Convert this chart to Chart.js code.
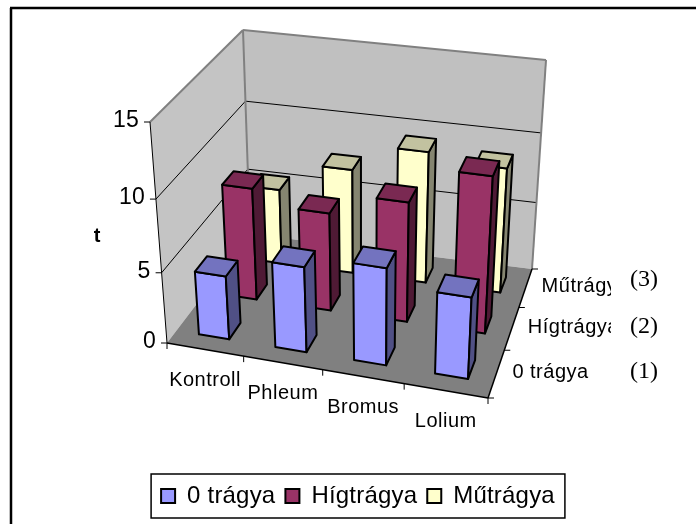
<!DOCTYPE html>
<html>
<head>
<meta charset="utf-8">
<title>t</title>
<script src="https://cdn.jsdelivr.net/npm/chart.js@4"></script>
<style>
  html, body { margin: 0; padding: 0; background: #fff; }
  canvas { display: block; }
</style>
</head>
<body>
<canvas id="chart" width="696" height="524"></canvas>
<script>
const categories = ["Kontroll", "Phleum", "Bromus", "Lolium"];
const seriesNames = ["0 trágya", "Hígtrágya", "Műtrágya"];
const zeroTragya = [4.5, 6, 6.8, 5.7];
const higtragya = [8, 7, 8.5, 11];
const mutragya = [5.5, 7.6, 9.5, 9];
const yTicks = [0, 5, 10, 15];
const seriesNotes = ["(1)", "(2)", "(3)"];

const FRONT = ["#9999ff", "#993366", "#ffffcc"];
const TOP = ["#7373bf", "#7a2952", "#c2c2a0"];
const SIDE = ["#505085", "#4f1a35", "#858570"];
const SANS = "'Liberation Sans', Arial, sans-serif";
const NOTE_Y = [372, 327, 280];

// corners of the 3d box on screen: floor and ceiling, front-left, front-right, back-right, back-left
const FLOOR = [[167, 343], [488, 398], [532, 269], [250, 234]];
const CEIL = [[150, 122], [500, 172], [546, 60], [243, 30]];

// maps the unit square to a quad
function quadMap(q) {
  const [[x0, y0], [x1, y1], [x2, y2], [x3, y3]] = q;
  const dx1 = x1 - x2, dx2 = x3 - x2, dx3 = x0 - x1 + x2 - x3;
  const dy1 = y1 - y2, dy2 = y3 - y2, dy3 = y0 - y1 + y2 - y3;
  const det = dx1 * dy2 - dx2 * dy1;
  const g = (dx3 * dy2 - dx2 * dy3) / det;
  const h = (dx1 * dy3 - dx3 * dy1) / det;
  const a = x1 - x0 + g * x1, b = x3 - x0 + h * x3;
  const d = y1 - y0 + g * y1, e = y3 - y0 + h * y3;
  return (u, v) => {
    const w = g * u + h * v + 1;
    return [(a * u + b * v + x0) / w, (d * u + e * v + y0) / w];
  };
}
const floorAt = quadMap(FLOOR);
const ceilAt = quadMap(CEIL);

// u along categories, v into the depth, t is height as 0..1
function project(u, v, t) {
  const w = u + 0.06 * u * (1 - u); // the front edge is more even than a pure quad gives
  const z = t - 0.07 * t * (1 - t); // same for height, upper steps are a bit taller
  const f = floorAt(w, v), c = ceilAt(w, v);
  return [f[0] + (c[0] - f[0]) * z, f[1] + (c[1] - f[1]) * z];
}

function poly(ctx, pts, fill, stroke, width) {
  ctx.beginPath();
  pts.forEach((p, i) => (i ? ctx.lineTo(p[0], p[1]) : ctx.moveTo(p[0], p[1])));
  ctx.closePath();
  if (fill) { ctx.fillStyle = fill; ctx.fill(); }
  if (stroke) { ctx.strokeStyle = stroke; ctx.lineWidth = width; ctx.stroke(); }
}

function line(ctx, a, b, color, width) {
  ctx.beginPath();
  ctx.moveTo(a[0], a[1]);
  ctx.lineTo(b[0], b[1]);
  ctx.strokeStyle = color;
  ctx.lineWidth = width;
  ctx.stroke();
}

function drawBox(ctx, u, v, t, s) {
  const du = 0.2 / categories.length, dv = 0.2 / seriesNames.length;
  const a = project(u - du, v - dv, 0), b = project(u + du, v - dv, 0), c = project(u + du, v + dv, 0);
  const A = project(u - du, v - dv, t), B = project(u + du, v - dv, t);
  const C = project(u + du, v + dv, t), D = project(u - du, v + dv, t);
  poly(ctx, [a, b, B, A], FRONT[s], "#000", 2);
  poly(ctx, [b, c, C, B], SIDE[s], "#000", 2);
  poly(ctx, [A, B, C, D], TOP[s], "#000", 2);
}

const box3d = {
  id: "box3d",
  beforeUpdate(chart) {
    chart.ctx.letterSpacing = "0.2px"; // legend text runs a little wide in the reference
  },
  beforeDatasetsDraw(chart) {
    const ctx = chart.ctx;
    const xs = chart.scales.x, ys = chart.scales.y;
    const n = categories.length, m = seriesNames.length;
    const norm = (v) => ys.getDecimalForPixel(ys.getPixelForValue(v));
    ctx.save();
    ctx.lineJoin = "round";

    // walls and floor
    poly(ctx, [project(0, 0, 0), project(0, 1, 0), project(0, 1, 1), project(0, 0, 1)], "#c4c4c4");
    poly(ctx, [project(0, 1, 0), project(1, 1, 0), project(1, 1, 1), project(0, 1, 1)], "#c0c0c0");
    poly(ctx, [project(0, 0, 0), project(1, 0, 0), project(1, 1, 0), project(0, 1, 0)], "#808080");
    yTicks.forEach((tv) => {
      const t = norm(tv);
      if (t > 0 && t < 1) {
        line(ctx, project(0, 0, t), project(0, 1, t), "#000", 1);
        line(ctx, project(0, 1, t), project(1, 1, t), "#000", 1);
      }
    });
    line(ctx, project(0, 0, 1), project(0, 1, 1), "#808080", 2);
    line(ctx, project(0, 1, 1), project(1, 1, 1), "#808080", 2);
    line(ctx, project(0, 1, 0), project(0, 1, 1), "#808080", 2);
    line(ctx, project(1, 1, 0), project(1, 1, 1), "#808080", 2);

    // axes
    line(ctx, project(0, 0, 0), project(0, 0, 1), "#000", 1);
    line(ctx, project(0, 0, 0), project(1, 0, 0), "#000", 1.5);
    line(ctx, project(1, 0, 0), project(1, 1, 0), "#000", 1.5);

    ctx.fillStyle = "#000";
    ctx.textBaseline = "middle";
    ctx.font = "23px " + SANS;
    ctx.textAlign = "right";
    yTicks.forEach((tv) => {
      const p = project(0, 0, norm(tv));
      line(ctx, p, [p[0] - 6, p[1]], "#000", 1);
      ctx.fillStyle = "#000";
      ctx.fillText(String(tv), p[0] - 11, p[1] - 1);
    });
    for (let i = 0; i <= n; i += 1) {
      const p = project(i / n, 0, 0);
      line(ctx, p, [p[0], p[1] + 6], "#000", 1);
    }
    for (let j = 0; j <= m; j += 1) {
      const p = project(1, j / m, 0);
      line(ctx, p, [p[0] + 6, p[1]], "#000", 1);
    }

    ctx.fillStyle = "#000";
    ctx.font = "20px " + SANS;
    ctx.letterSpacing = "0.5px";
    ctx.textAlign = "center";
    categories.forEach((name, i) => {
      const p = project(xs.getDecimalForPixel(xs.getPixelForValue(i)), 0, 0);
      ctx.fillText(name, p[0], p[1] + 31);
    });

    // depth labels run under the pasted (1)(2)(3) box, so they get cut at its edge
    ctx.save();
    ctx.beginPath();
    ctx.rect(0, 0, 611, 524);
    ctx.clip();
    ctx.textAlign = "left";
    seriesNames.forEach((name, j) => {
      const p = project(1, (j + 0.5) / m, 0);
      ctx.fillText(name, p[0] + 16, p[1] - 1);
    });
    ctx.restore();

    ctx.letterSpacing = "0px";
    ctx.font = "24px 'Liberation Serif', serif";
    ctx.textAlign = "left";
    seriesNotes.forEach((note, j) => {
      ctx.fillText(note, 630, NOTE_Y[j]);
    });

    ctx.font = "bold 20px " + SANS;
    ctx.textAlign = "center";
    ctx.fillText("t", 97, 236);

    // bars, back row first
    for (let j = m - 1; j >= 0; j -= 1) {
      const values = chart.data.datasets[j].data;
      values.forEach((val, i) => {
        const u = xs.getDecimalForPixel(xs.getPixelForValue(i));
        drawBox(ctx, u, (j + 0.5) / m, norm(val), j);
      });
    }
    ctx.restore();
    return false;
  },
  afterDraw(chart) {
    const ctx = chart.ctx;
    const lg = chart.legend;
    const first = lg.legendHitBoxes[0];
    const last = lg.legendHitBoxes[lg.legendHitBoxes.length - 1];
    const left = first.left - 10;
    const right = last.left + last.width + 10;
    ctx.save();
    ctx.strokeStyle = "#000";
    ctx.lineWidth = 1.5;
    ctx.strokeRect(left, lg.top, right - left, lg.height);
    // outer frame, right and bottom sides fall off the picture
    line(ctx, [11, 524], [11, 8], "#000", 2.5);
    line(ctx, [10, 8], [696, 8], "#000", 2.5);
    ctx.restore();
  },
};

Chart.defaults.font.family = SANS;
Chart.defaults.color = "#000";

new Chart(document.getElementById("chart"), {
  type: "bar",
  data: {
    labels: categories,
    datasets: [zeroTragya, higtragya, mutragya].map((data, i) => ({
      label: seriesNames[i],
      data,
      backgroundColor: FRONT[i],
      borderColor: "#000",
      borderWidth: 2,
    })),
  },
  options: {
    responsive: false,
    animation: false,
    layout: { padding: { left: 20, bottom: 6, top: 20, right: 0 } },
    scales: {
      x: { display: false },
      y: { display: false, min: 0, max: 15 },
    },
    plugins: {
      tooltip: { enabled: false },
      legend: {
        position: "bottom",
        labels: { boxWidth: 14, boxHeight: 14, padding: 10, font: { size: 24 }, color: "#000" },
      },
    },
  },
  plugins: [box3d],
});
</script>
</body>
</html>
